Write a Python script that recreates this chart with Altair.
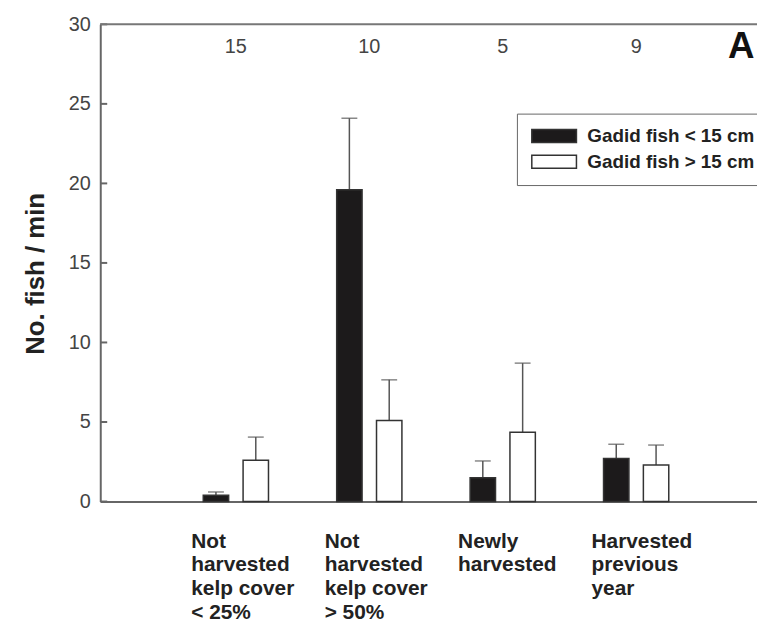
import altair as alt
import pandas as pd

# ---- data ----
groups = [
    "Not\nharvested\nkelp cover\n< 25%",
    "Not\nharvested\nkelp cover\n> 50%",
    "Newly\nharvested",
    "Harvested\nprevious\nyear",
]
sizes = ["Gadid fish < 15 cm", "Gadid fish > 15 cm"]
mean_small = [0.4, 19.6, 1.5, 2.7]
se_small = [0.2, 4.5, 1.05, 0.9]
mean_large = [2.6, 5.1, 4.35, 2.3]
se_large = [1.45, 2.55, 4.35, 1.25]
sample_n = ["15", "10", "5", "9"]
y_ticks = [0, 5, 10, 15, 20, 25, 30]
panel_label = "A"

rows = []
for g, m, s in zip(groups, mean_small, se_small):
    rows.append({"group": g, "size": sizes[0], "mean": m, "upper": m + s})
for g, m, s in zip(groups, mean_large, se_large):
    rows.append({"group": g, "size": sizes[1], "mean": m, "upper": m + s})
df = pd.DataFrame(rows)
n_df = pd.DataFrame({"group": groups, "n": sample_n})
tick_df = pd.DataFrame({"v": y_ticks})
one = pd.DataFrame({"a": [0]})

FONT = "Liberation Sans"
W, H = 662, 481
YTITLE = "No. fish / min"

x_enc = alt.X(
    "group:N", sort=groups,
    scale=alt.Scale(paddingInner=0, paddingOuter=0.461, align=0.56),
    axis=alt.Axis(
        title=None, labelExpr="split(datum.label, '\\n')", labelAngle=0,
        labelAlign="left", labelBaseline="top", labelOffset=-45, labelPadding=29,
        labelLineHeight=24, labelFont=FONT, labelFontWeight="bold", labelFontSize=21,
        labelColor="#222", ticks=False, tickSize=0, domainColor="#666", domainWidth=2,
        labelOverlap=False, labelLimit=300, labelBound=False,
    ),
)
xo_enc = alt.XOffset(
    "size:N", sort=sizes,
    scale=alt.Scale(paddingInner=0.3625, paddingOuter=0.856, align=0.5),
)
y_axis = alt.Axis(
    title=YTITLE, values=y_ticks, ticks=False, tickSize=0, labelPadding=10,
    labelFont=FONT, labelFontSize=20, labelColor="#444", titleFont=FONT,
    titleFontSize=26, titleFontWeight="bold", titleColor="#222", titlePadding=20,
    titleY=251, domainColor="#666", domainWidth=2, grid=False,
)
y_scale = alt.Scale(domain=[0, 30], nice=False)

base = alt.Chart(df)

errors = base.mark_rule(color="#555", strokeWidth=1.5).encode(
    x=x_enc, xOffset=xo_enc,
    y=alt.Y("mean:Q", scale=y_scale, axis=y_axis, title=YTITLE),
    y2="upper:Q",
)
caps = base.mark_tick(orient="horizontal", size=16, thickness=1.5, color="#555").encode(
    x=x_enc, xOffset=xo_enc,
    y=alt.Y("upper:Q", scale=y_scale, axis=y_axis, title=YTITLE),
)
# wide rectangle swatch (drawn 45 x 13 px)
legend_path = "M-3,-0.867L3,-0.867L3,0.867L-3,0.867Z"
bars = base.mark_bar(stroke="#333", strokeWidth=1.5).encode(
    x=x_enc, xOffset=xo_enc,
    y=alt.Y("mean:Q", scale=y_scale, axis=y_axis, title=YTITLE),
    fill=alt.Fill(
        "size:N", sort=sizes,
        scale=alt.Scale(domain=sizes, range=["#1c1a1b", "#ffffff"]),
        legend=alt.Legend(
            title=None, orient="none", legendX=420, legendY=90,
            symbolType=legend_path, symbolSize=225, symbolOffset=15,
            symbolStrokeColor="#333", symbolStrokeWidth=1.5,
            labelFont=FONT, labelFontSize=19, labelFontWeight="bold",
            labelColor="#222", labelOffset=24, rowPadding=5, padding=13,
            strokeColor="#666", fillColor="white", labelLimit=300,
        ),
    ),
)
ticks = alt.Chart(tick_df).mark_rule(color="#666", strokeWidth=2).encode(
    y=alt.Y("v:Q", scale=y_scale, axis=y_axis, title=YTITLE),
    x=alt.value(0), x2=alt.value(7),
)
border = alt.Chart(one).mark_rule(color="#777", strokeWidth=2).encode(
    y=alt.value(0), x=alt.value(0), x2=alt.value(W),
)
ntext = alt.Chart(n_df).mark_text(font=FONT, fontSize=20, color="#444", baseline="middle").encode(
    x=alt.X("group:N", sort=groups), y=alt.value(23), text="n:N",
)
alabel = alt.Chart(one).mark_text(font=FONT, fontSize=37, fontWeight="bold", color="#111", baseline="middle").encode(
    x=alt.value(646), y=alt.value(23), text=alt.value(panel_label),
)

chart = alt.layer(errors, caps, bars, ticks, border, ntext, alabel).properties(
    width=W, height=H,
    autosize=alt.AutoSizeParams(type="none"),
    padding={"left": 93, "top": 14, "right": 0, "bottom": 122},
).configure(font=FONT).configure_view(stroke=None)

chart.save("out.html", embed_options={"renderer": "svg", "actions": False})
